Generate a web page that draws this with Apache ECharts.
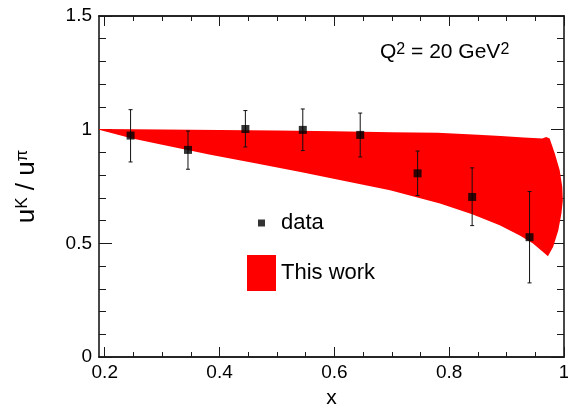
<!DOCTYPE html>
<html>
<head>
<meta charset="utf-8">
<script src="https://cdn.jsdelivr.net/npm/echarts@6/dist/echarts.min.js"></script>
<style>
  html, body { margin: 0; padding: 0; background: #fff; }
  #chart { width: 568px; height: 410px; }
</style>
</head>
<body>
<div id="chart"></div>
<script>
// Measured ratio u^K/u^pi: x position, central value, error bar limits
const dataX  = [0.245, 0.345, 0.445, 0.545, 0.645, 0.745, 0.840, 0.940];
const dataY  = [0.974, 0.911, 1.003, 0.999, 0.977, 0.808, 0.704, 0.527];
const dataLo = [0.858, 0.826, 0.924, 0.908, 0.880, 0.710, 0.578, 0.326];
const dataHi = [1.088, 0.994, 1.084, 1.091, 1.073, 0.906, 0.832, 0.728];

// Calculated band: upper edge (left to right)
const bandUpperX = [0.19, 0.25, 0.30, 0.40, 0.50, 0.60, 0.70, 0.78, 0.85, 0.89, 0.93, 0.955, 0.962, 0.969];
const bandUpperY = [1.003, 1.002, 1.001, 0.999, 0.996, 0.993, 0.989, 0.986, 0.978, 0.972, 0.966, 0.962, 0.961, 0.968];
// rounded end of the band near x = 1 (top to bottom)
const bandCapX = [0.975, 0.984, 0.9925, 0.997, 0.998, 0.9955, 0.990, 0.981, 0.972];
const bandCapY = [0.961, 0.895, 0.821, 0.748, 0.689, 0.631, 0.557, 0.484, 0.443];
// lower edge (left to right)
const bandLowerX = [0.19, 0.246, 0.30, 0.384, 0.46, 0.541, 0.62, 0.697, 0.784, 0.84, 0.888, 0.923, 0.946, 0.9635];
const bandLowerY = [1.000, 0.962, 0.934, 0.890, 0.853, 0.814, 0.773, 0.733, 0.675, 0.628, 0.579, 0.535, 0.499, 0.462];

// Axis ticks
const xMajorTicks = [0.2, 0.4, 0.6, 0.8, 1.0];
const xMinorTicks = [0.25, 0.3, 0.35, 0.45, 0.5, 0.55, 0.65, 0.7, 0.75, 0.85, 0.9, 0.95];

const FONT = "'Liberation Sans', Arial, Helvetica, sans-serif";
const AXIS_COLOR = '#1a1a1a';
const X_MIN = 0.19, X_MAX = 1.0;

function xAxisDef(position, ticks, len, extra) {
  return Object.assign({
    type: 'value', min: X_MIN, max: X_MAX, position: position,
    axisLine: { show: true, onZero: false, lineStyle: { color: AXIS_COLOR, width: 1.6 } },
    axisTick: { show: true, inside: true, length: len, customValues: ticks, lineStyle: { color: AXIS_COLOR, width: 1 } },
    axisLabel: { show: false },
    splitLine: { show: false }
  }, extra || {});
}

function yAxisDef(position, extra) {
  return Object.assign({
    type: 'value', min: 0, max: 1.5, interval: 0.5, position: position,
    axisLine: { show: true, onZero: false, lineStyle: { color: AXIS_COLOR, width: 1.6 } },
    axisTick: { show: true, inside: true, length: 13, lineStyle: { color: AXIS_COLOR, width: 1 } },
    minorTick: { show: true, splitNumber: 5, length: 7, lineStyle: { color: AXIS_COLOR, width: 1 } },
    axisLabel: { show: false },
    splitLine: { show: false }
  }, extra || {});
}

const chart = echarts.init(document.getElementById('chart'), null, { renderer: 'canvas' });

const bandPolygonData = [];
for (let i = 0; i < bandUpperX.length; i++) bandPolygonData.push([bandUpperX[i], bandUpperY[i]]);
for (let i = 0; i < bandCapX.length; i++) bandPolygonData.push([bandCapX[i], bandCapY[i]]);
for (let i = bandLowerX.length - 1; i >= 0; i--) bandPolygonData.push([bandLowerX[i], bandLowerY[i]]);

const errorData = dataX.map((x, i) => [x, dataLo[i], dataHi[i]]);
const pointData = dataX.map((x, i) => [x, dataY[i]]);

chart.setOption({
  animation: false,
  textStyle: { fontFamily: FONT },
  grid: { left: 99, right: 4, top: 16, bottom: 53, containLabel: false, outerBoundsMode: 'none' },
  xAxis: [
    xAxisDef('bottom', xMajorTicks, 10, {
      axisLabel: { show: true, customValues: xMajorTicks, margin: 6, fontSize: 19, color: '#000', fontFamily: FONT },
      name: 'x', nameLocation: 'middle', nameGap: 31,
      nameTextStyle: { fontSize: 21, color: '#000', fontFamily: FONT }
    }),
    xAxisDef('bottom', xMinorTicks, 5),
    xAxisDef('top', xMajorTicks, 10),
    xAxisDef('top', xMinorTicks, 5)
  ],
  yAxis: [
    yAxisDef('left', {
      axisLabel: { show: true, margin: 7, fontSize: 19, color: '#000', fontFamily: FONT },
      name: 'u{k|K} / u{k|π}', nameLocation: 'middle', nameGap: 59,
      nameTextStyle: {
        fontSize: 26, color: '#000', fontFamily: FONT,
        rich: { k: { fontSize: 17, color: '#000', fontFamily: FONT, verticalAlign: 'top' } }
      }
    }),
    yAxisDef('right')
  ],
  legend: [
    {
      data: ['data'], left: 258, top: 212, padding: 0, selectedMode: false,
      icon: 'rect', itemWidth: 7, itemHeight: 7,
      textStyle: { fontSize: 22, color: '#000', fontFamily: FONT, padding: [0, 0, 0, 11] }
    },
    {
      data: ['This work'], left: 247, top: 255, padding: 0, selectedMode: false,
      icon: 'rect', itemWidth: 29, itemHeight: 36,
      textStyle: { fontSize: 22, color: '#000', fontFamily: FONT }
    }
  ],
  graphic: [
    {
      type: 'text', left: 380, top: 42, z: 10,
      style: {
        text: 'Q{s|2} = 20 GeV{s|2}',
        fontSize: 21, fontFamily: FONT, fill: '#000',
        rich: { s: { fontSize: 16, fontFamily: FONT, fill: '#000', verticalAlign: 'top' } }
      }
    }
  ],
  series: [
    {
      name: 'This work', type: 'custom', xAxisIndex: 0, yAxisIndex: 0, z: 1,
      itemStyle: { color: '#ff0000' },
      data: [bandPolygonData[0]],
      renderItem: function (params, api) {
        const pts = bandPolygonData.map(p => api.coord(p));
        return { type: 'polygon', shape: { points: pts }, style: { fill: '#ff0000', stroke: null } };
      }
    },
    {
      name: 'errors', type: 'custom', xAxisIndex: 0, yAxisIndex: 0, z: 3,
      encode: { x: 0, y: [1, 2] },
      data: errorData,
      renderItem: function (params, api) {
        const x = api.value(0);
        const pLo = api.coord([x, api.value(1)]);
        const pHi = api.coord([x, api.value(2)]);
        const c = 2;
        const st = { stroke: '#111', lineWidth: 1 };
        return {
          type: 'group',
          children: [
            { type: 'line', shape: { x1: pLo[0], y1: pLo[1], x2: pHi[0], y2: pHi[1] }, style: st },
            { type: 'line', shape: { x1: pLo[0] - c, y1: pLo[1], x2: pLo[0] + c, y2: pLo[1] }, style: st },
            { type: 'line', shape: { x1: pHi[0] - c, y1: pHi[1], x2: pHi[0] + c, y2: pHi[1] }, style: st }
          ]
        };
      }
    },
    {
      name: 'data', type: 'scatter', xAxisIndex: 0, yAxisIndex: 0, z: 4,
      symbol: 'rect', symbolSize: 8,
      itemStyle: { color: '#000' },
      data: pointData
    }
  ]
});
</script>
</body>
</html>
